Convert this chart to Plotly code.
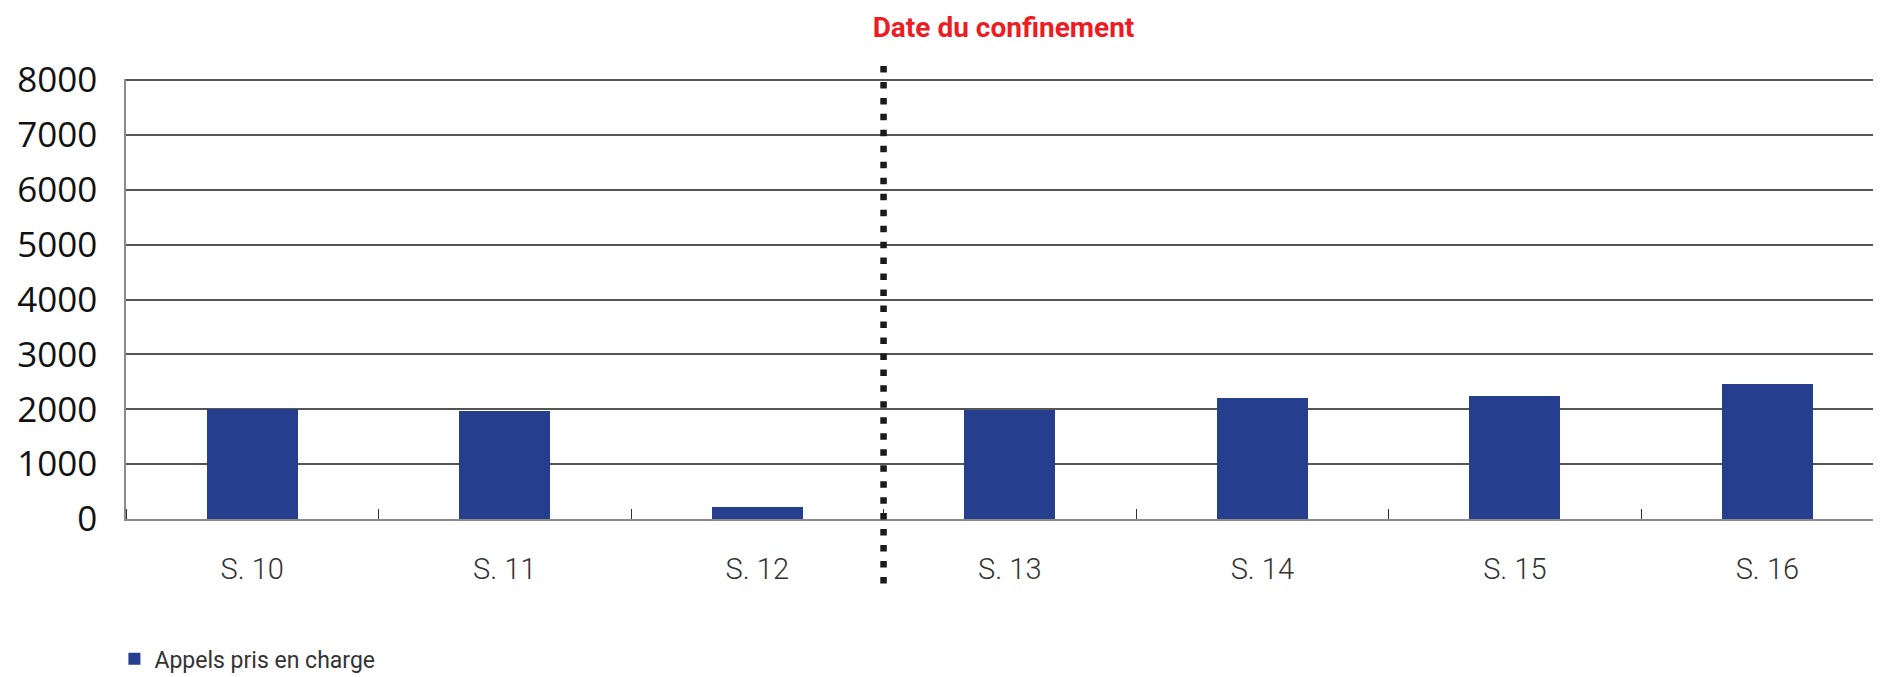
import plotly.graph_objects as go

# ---- data ----
categories = ["S. 10", "S. 11", "S. 12", "S. 13", "S. 14", "S. 15", "S. 16"]
appels = [2000, 1965, 220, 1985, 2200, 2235, 2455]
series_name = "Appels pris en charge"
y_ticks = [0, 1000, 2000, 3000, 4000, 5000, 6000, 7000, 8000]
confinement_label = "Date du confinement"
confinement_pos = 2.5  # between S. 12 and S. 13

x_idx = list(range(len(categories)))

NARROW = "Roboto, Liberation Sans Narrow, sans-serif"

# the page body adds an 8px margin, so the figure is sized to fit the window
W, H = 1873, 669
ML, MT, MB = 118, 71, 158
PLOT_H = H - MT - MB

fig = go.Figure()
fig.add_trace(go.Bar(
    x=x_idx, y=appels, name=series_name, width=0.36,
    marker=dict(color="#253e8d", line=dict(width=0)),
    showlegend=True,
))

fig.update_layout(
    width=W, height=H,
    margin=dict(l=ML, r=0, t=MT, b=MB, autoexpand=False),
    paper_bgcolor="white", plot_bgcolor="white",
    title=dict(
        text="<b>" + confinement_label + "</b>",
        x=0.5, xref="paper", xanchor="center",
        y=1 - 19 / H, yref="container", yanchor="middle",
        font=dict(family=NARROW, size=28, color="#ed1c24"),
    ),
    showlegend=True,
    legend=dict(
        x=-0.0066, xanchor="left", y=-0.318, yanchor="middle",
        font=dict(family=NARROW, size=23, color="#333333"),
        bgcolor="rgba(0,0,0,0)",
    ),
    bargap=0,
)

fig.update_xaxes(
    range=[-0.5, 6.45],
    tickvals=x_idx, ticktext=categories,
    ticks="", showgrid=False, zeroline=False,
    showline=True, linecolor="#8a8a8a", linewidth=2,
    tickfont=dict(family=NARROW, size=29, color="#333333", weight=300),
    ticklabelstandoff=23,
    minor=dict(tick0=0.5, dtick=1, ticks="inside", ticklen=10,
               tickcolor="#333333", tickwidth=1, showgrid=False),
)
fig.update_yaxes(
    range=[0, 8020],
    tickvals=y_ticks, ticktext=[str(v) for v in y_ticks],
    showgrid=True, gridcolor="#555555", gridwidth=1.5,
    zeroline=False,
    showline=True, linecolor="#8a8a8a", linewidth=1.5,
    ticks="", ticklabelstandoff=20,
    tickfont=dict(family="Open Sans, sans-serif", size=35, color="#111111"),
)

# dotted reference line marking the lockdown date (extends above and below the plot)
fig.add_shape(
    type="line", xref="x", yref="paper",
    x0=confinement_pos, x1=confinement_pos,
    y0=(519 - 583.5) / PLOT_H, y1=(519 - 65.5) / PLOT_H,
    line=dict(color="#1a1a1a", width=6.5, dash="6.5px,9.47px"),
    layer="above",
)

fig.write_html("out.html")
